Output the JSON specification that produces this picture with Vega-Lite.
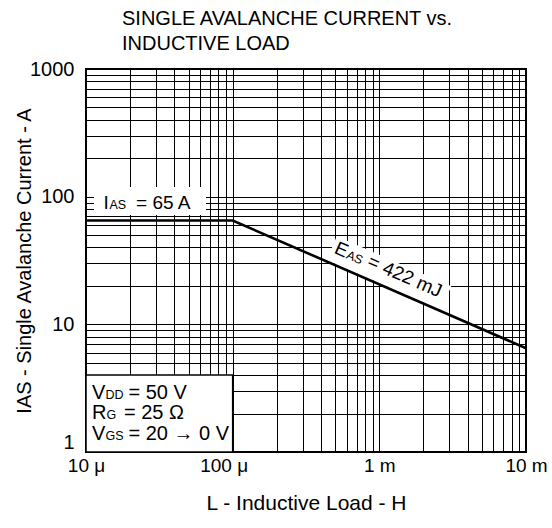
{
  "$schema": "https://vega.github.io/schema/vega-lite/v6.json",
  "width": 440,
  "height": 383,
  "autosize": {"type": "none"},
  "padding": {"left": 86, "top": 69, "right": 26, "bottom": 76},
  "background": "white",
  "config": {"font": "Liberation Sans", "view": {"stroke": "black", "strokeWidth": 2}},
  "title": {
    "text": ["SINGLE AVALANCHE CURRENT vs.", "INDUCTIVE LOAD"],
    "anchor": "start",
    "frame": "group",
    "dx": 36,
    "offset": 5,
    "fontSize": 20,
    "fontWeight": "normal",
    "lineHeight": 25,
    "color": "black"
  },
  "encoding": {
    "x": {
      "field": "x",
      "type": "quantitative",
      "scale": {"type": "log", "domain": [0.00001, 0.01], "nice": false},
      "axis": {
        "title": "L - Inductive Load - H",
        "values": [0.00001,0.00002,0.00003,0.00004,0.00005,0.00006,0.00007,0.00008,0.00009,0.0001,0.0002,0.0003,0.0004,0.0005,0.0006,0.0007,0.0008,0.0009,0.001,0.002,0.003,0.004,0.005,0.006,0.007,0.008,0.009,0.01],
        "labelExpr": "abs(log(datum.value)/LN10 - round(log(datum.value)/LN10)) > 0.01 ? '' : round(log(datum.value)/LN10) == -5 ? '10 μ' : round(log(datum.value)/LN10) == -4 ? '100 μ' : round(log(datum.value)/LN10) == -3 ? '1 m' : '10 m'",
        "ticks": false,
        "domain": false,
        "grid": true,
        "gridColor": "black",
        "gridOpacity": 1,
        "gridWidth": 1,
        "labelFontSize": 19,
        "labelColor": "black",
        "labelPadding": 4,
        "labelOverlap": false,
        "labelBound": false,
        "labelFlush": false,
        "labelOffset": {"condition": {"test": "datum.value > 0.00009 && datum.value < 0.00011", "value": -9}, "value": 0},
        "titleFontSize": 21,
        "titleFontWeight": "normal",
        "titleColor": "black",
        "titlePadding": 17
      }
    },
    "y": {
      "field": "y",
      "type": "quantitative",
      "scale": {"type": "log", "domain": [1, 1000], "nice": false},
      "axis": {
        "title": "IAS - Single Avalanche Current - A",
        "values": [1,2,3,4,5,6,7,8,9,10,20,30,40,50,60,70,80,90,100,200,300,400,500,600,700,800,900,1000],
        "labelExpr": "abs(log(datum.value)/LN10 - round(log(datum.value)/LN10)) > 0.01 ? '' : format(datum.value, 'd')",
        "ticks": false,
        "domain": false,
        "grid": true,
        "gridColor": "black",
        "gridOpacity": 1,
        "gridWidth": 1,
        "labelFontSize": 20,
        "labelColor": "black",
        "labelPadding": 12,
        "labelOverlap": false,
        "labelBound": false,
        "labelFlush": false,
        "labelBaseline": {"condition": {"test": "datum.value < 1.5", "value": "bottom"}, "value": "middle"},
        "titleFontSize": 20,
        "titleFontWeight": "normal",
        "titleColor": "black",
        "titlePadding": -5
      }
    }
  },
  "layer": [
    {
      "data": {"values": [{"x": 0.00001134, "x2": 0.0000658, "y": 119, "y2": 71.9}]},
      "mark": {"type": "rect", "fill": "white", "stroke": null},
      "encoding": {"x2": {"field": "x2"}, "y2": {"field": "y2"}}
    },
    {
      "data": {"values": [{"x": 0.00001, "x2": 0.0001, "y": 1, "y2": 4.01}]},
      "mark": {"type": "rect", "fill": "white", "stroke": "black", "strokeWidth": 1.5},
      "encoding": {"x2": {"field": "x2"}, "y2": {"field": "y2"}}
    },
    {
      "data": {"values": [{"x": 0.0004726, "x2": 0.002852, "y": 39.5, "y2": 16.05}]},
      "mark": {"type": "rule", "stroke": "white", "strokeWidth": 26, "strokeCap": "butt"},
      "encoding": {"x2": {"field": "x2"}, "y2": {"field": "y2"}}
    },
    {
      "data": {"values": [{"x": 0.00001, "y": 65}, {"x": 0.0001, "y": 65}, {"x": 0.01, "y": 6.5}]},
      "mark": {"type": "line", "color": "black", "strokeWidth": 2.6},
      "encoding": {}
    },
    {
      "data": {"values": [
        {"x": 0.00001316, "y": 79.6, "t": "I"},
        {"x": 0.00002193, "y": 79.6, "t": "= 65 A"}
      ]},
      "mark": {"type": "text", "align": "left", "baseline": "alphabetic", "fontSize": 19, "color": "black"},
      "encoding": {"text": {"field": "t"}}
    },
    {
      "data": {"values": [
        {"x": 0.00001099, "y": 2.601, "t": "V"},
        {"x": 0.00001949, "y": 2.601, "t": "= 50 V"},
        {"x": 0.00001099, "y": 1.814, "t": "R"},
        {"x": 0.00001816, "y": 1.814, "t": "= 25 Ω"},
        {"x": 0.00001099, "y": 1.242, "t": "V"},
        {"x": 0.00001949, "y": 1.242, "t": "= 20 → 0 V"}
      ]},
      "mark": {"type": "text", "align": "left", "baseline": "alphabetic", "fontSize": 20, "color": "black"},
      "encoding": {"text": {"field": "t"}}
    },
    {
      "data": {"values": [
        {"x": 0.00001446, "y": 79.6, "t": "AS"},
        {"x": 0.00001358, "y": 2.601, "t": "DD"},
        {"x": 0.0000138, "y": 1.814, "t": "G"},
        {"x": 0.00001358, "y": 1.242, "t": "GS"}
      ]},
      "mark": {"type": "text", "align": "left", "baseline": "alphabetic", "fontSize": 12.5, "color": "black"},
      "encoding": {"text": {"field": "t"}}
    },
    {
      "data": {"values": [
        {"x": 0.0004855, "y": 36.4, "t": "E"},
        {"x": 0.000815, "y": 28.58, "t": "= 422 mJ"}
      ]},
      "mark": {"type": "text", "align": "left", "baseline": "alphabetic", "fontSize": 19, "angle": 23.5, "color": "black"},
      "encoding": {"text": {"field": "t"}}
    },
    {
      "data": {"values": [
        {"x": 0.000587, "y": 33.1, "t": "AS"}
      ]},
      "mark": {"type": "text", "align": "left", "baseline": "alphabetic", "fontSize": 12.5, "angle": 23.5, "color": "black"},
      "encoding": {"text": {"field": "t"}}
    }
  ]
}
